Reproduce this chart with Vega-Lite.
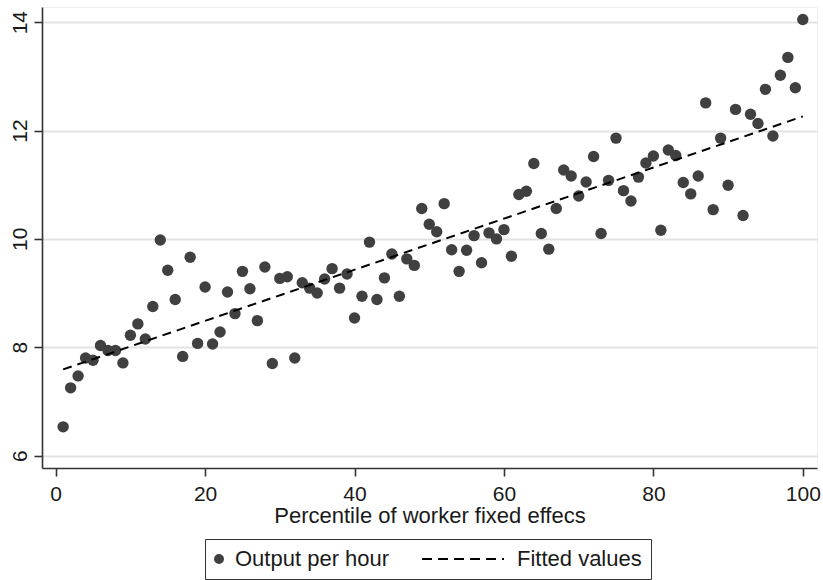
{
  "$schema": "https://vega.github.io/schema/vega-lite/v6.json",
  "width": 775,
  "height": 461,
  "autosize": "none",
  "padding": {"left": 42, "top": 7, "right": 6, "bottom": 112},
  "background": "white",
  "config": {
    "font": "Liberation Sans",
    "view": {"stroke": "#eeeeee", "strokeWidth": 1},
    "axis": {
      "domainColor": "#333333",
      "domainWidth": 1.6,
      "tickColor": "#333333",
      "tickWidth": 1.6,
      "tickSize": 8,
      "labelColor": "#1a1a1a",
      "titleColor": "#1a1a1a",
      "labelFont": "Liberation Sans",
      "titleFont": "Liberation Sans",
      "labelFontSize": 21,
      "titleFontSize": 22,
      "titleFontWeight": "normal",
      "gridColor": "#e3e3e3",
      "gridWidth": 1.8
    }
  },
  "datasets": {
    "bins": [
      {"pct": 1, "output": 6.53}, {"pct": 2, "output": 7.25}, {"pct": 3, "output": 7.47}, {"pct": 4, "output": 7.80}, {"pct": 5, "output": 7.76},
      {"pct": 6, "output": 8.03}, {"pct": 7, "output": 7.94}, {"pct": 8, "output": 7.94}, {"pct": 9, "output": 7.71}, {"pct": 10, "output": 8.22},
      {"pct": 11, "output": 8.43}, {"pct": 12, "output": 8.15}, {"pct": 13, "output": 8.75}, {"pct": 14, "output": 9.98}, {"pct": 15, "output": 9.42},
      {"pct": 16, "output": 8.88}, {"pct": 17, "output": 7.83}, {"pct": 18, "output": 9.66}, {"pct": 19, "output": 8.07}, {"pct": 20, "output": 9.11},
      {"pct": 21, "output": 8.06}, {"pct": 22, "output": 8.28}, {"pct": 23, "output": 9.02}, {"pct": 24, "output": 8.62}, {"pct": 25, "output": 9.40},
      {"pct": 26, "output": 9.08}, {"pct": 27, "output": 8.49}, {"pct": 28, "output": 9.48}, {"pct": 29, "output": 7.70}, {"pct": 30, "output": 9.27},
      {"pct": 31, "output": 9.30}, {"pct": 32, "output": 7.80}, {"pct": 33, "output": 9.19}, {"pct": 34, "output": 9.09}, {"pct": 35, "output": 9.00},
      {"pct": 36, "output": 9.26}, {"pct": 37, "output": 9.45}, {"pct": 38, "output": 9.09}, {"pct": 39, "output": 9.35}, {"pct": 40, "output": 8.54},
      {"pct": 41, "output": 8.94}, {"pct": 42, "output": 9.94}, {"pct": 43, "output": 8.88}, {"pct": 44, "output": 9.28}, {"pct": 45, "output": 9.72},
      {"pct": 46, "output": 8.94}, {"pct": 47, "output": 9.63}, {"pct": 48, "output": 9.51}, {"pct": 49, "output": 10.56}, {"pct": 50, "output": 10.27},
      {"pct": 51, "output": 10.13}, {"pct": 52, "output": 10.65}, {"pct": 53, "output": 9.80}, {"pct": 54, "output": 9.40}, {"pct": 55, "output": 9.79},
      {"pct": 56, "output": 10.06}, {"pct": 57, "output": 9.56}, {"pct": 58, "output": 10.11}, {"pct": 59, "output": 10.00}, {"pct": 60, "output": 10.17},
      {"pct": 61, "output": 9.68}, {"pct": 62, "output": 10.82}, {"pct": 63, "output": 10.88}, {"pct": 64, "output": 11.39}, {"pct": 65, "output": 10.10},
      {"pct": 66, "output": 9.81}, {"pct": 67, "output": 10.56}, {"pct": 68, "output": 11.27}, {"pct": 69, "output": 11.16}, {"pct": 70, "output": 10.79},
      {"pct": 71, "output": 11.05}, {"pct": 72, "output": 11.52}, {"pct": 73, "output": 10.10}, {"pct": 74, "output": 11.08}, {"pct": 75, "output": 11.86},
      {"pct": 76, "output": 10.89}, {"pct": 77, "output": 10.70}, {"pct": 78, "output": 11.14}, {"pct": 79, "output": 11.40}, {"pct": 80, "output": 11.53},
      {"pct": 81, "output": 10.16}, {"pct": 82, "output": 11.64}, {"pct": 83, "output": 11.54}, {"pct": 84, "output": 11.04}, {"pct": 85, "output": 10.83},
      {"pct": 86, "output": 11.16}, {"pct": 87, "output": 12.51}, {"pct": 88, "output": 10.54}, {"pct": 89, "output": 11.86}, {"pct": 90, "output": 10.99},
      {"pct": 91, "output": 12.39}, {"pct": 92, "output": 10.43}, {"pct": 93, "output": 12.30}, {"pct": 94, "output": 12.13}, {"pct": 95, "output": 12.76},
      {"pct": 96, "output": 11.90}, {"pct": 97, "output": 13.02}, {"pct": 98, "output": 13.35}, {"pct": 99, "output": 12.79}, {"pct": 100, "output": 14.05}
    ],
    "fit": [
      {"pct": 1, "fitted": 7.59},
      {"pct": 100, "fitted": 12.26}
    ]
  },
  "layer": [
    {
      "data": {"name": "bins"},
      "mark": {"type": "point", "filled": true, "opacity": 1, "size": 130, "strokeWidth": 0},
      "encoding": {
        "x": {
          "field": "pct", "type": "quantitative",
          "scale": {"domain": [-1.83, 101.9], "nice": false, "zero": false},
          "axis": {
            "values": [0, 20, 40, 60, 80, 100],
            "grid": false,
            "labelPadding": 7,
            "titlePadding": 1,
            "title": "Percentile of worker fixed effecs"
          }
        },
        "y": {
          "field": "output", "type": "quantitative",
          "scale": {"domain": [5.77, 14.28], "nice": false, "zero": false},
          "axis": {
            "values": [6, 8, 10, 12, 14],
            "grid": true,
            "title": null,
            "labelAngle": 270,
            "labelAlign": "center",
            "labelBaseline": "alphabetic",
            "labelPadding": 8
          }
        },
        "color": {
          "datum": "Output per hour",
          "type": "nominal",
          "scale": {"domain": ["Output per hour", "Fitted values"], "range": ["#404040", "#000000"]},
          "legend": {
            "title": null,
            "orient": "none",
            "legendX": 163,
            "legendY": 532,
            "direction": "horizontal",
            "strokeColor": "#333333",
            "fillColor": "white",
            "padding": 9,
            "clipHeight": 22,
            "columnPadding": 32,
            "labelOffset": {"expr": "datum.value === 'Fitted values' ? 43 : 5"},
            "symbolOffset": {"expr": "datum.value === 'Fitted values' ? 30 : -6"},
            "symbolType": {"expr": "datum.value === 'Fitted values' ? 'stroke' : 'circle'"},
            "symbolSize": {"expr": "datum.value === 'Fitted values' ? 6724 : 64"},
            "symbolDash": {"expr": "datum.value === 'Fitted values' ? [10, 6] : []"},
            "symbolStrokeWidth": 2,
            "labelFont": "Liberation Sans",
            "labelFontSize": 22,
            "labelColor": "#1a1a1a",
            "labelLimit": 400
          }
        }
      }
    },
    {
      "data": {"name": "fit"},
      "mark": {"type": "line", "strokeWidth": 2, "strokeDash": [9, 6]},
      "encoding": {
        "x": {"field": "pct", "type": "quantitative"},
        "y": {"field": "fitted", "type": "quantitative"},
        "color": {"datum": "Fitted values", "type": "nominal"}
      }
    }
  ]
}
